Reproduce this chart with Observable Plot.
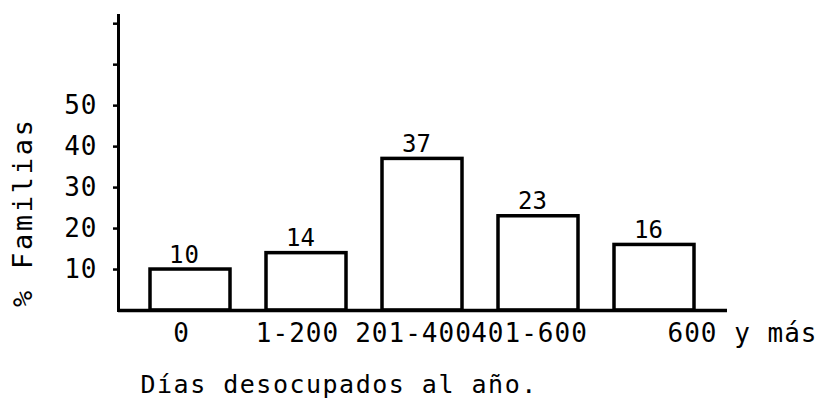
<!DOCTYPE html>
<html>
<head>
<meta charset="utf-8">
<script src="https://cdn.jsdelivr.net/npm/d3@7"></script>
<script src="https://cdn.jsdelivr.net/npm/@observablehq/plot@0.6"></script>
<style>
  body { margin: 0; background: #fff; }
  svg { font-family: "DejaVu Sans Mono", "Liberation Mono", monospace; }
</style>
</head>
<body>
<div id="chart"></div>
<script>
const categories = ["0", "1-200", "201-400", "401-600", "600 y más"];
const values = [10, 14, 37, 23, 16];
const yTicks = [10, 20, 30, 40, 50, 60, 70];
const yTickLabels = ["10", "20", "30", "40", "50", "", ""];
const yLabel = "% Familias";
const xTitle = "Días desocupados al año.";

const data = categories.map((c, i) => ({cat: c, val: values[i]}));
const font = "DejaVu Sans Mono, Liberation Mono, monospace";

const chart = Plot.plot({
  width: 834,
  height: 400,
  marginLeft: 118,
  marginRight: 107,
  marginTop: 15,
  marginBottom: 90,
  style: {fontFamily: font, color: "black", background: "white"},
  x: {domain: categories, paddingInner: 0.31, paddingOuter: 0.28, axis: null},
  y: {domain: [0, 72], axis: null},
  marks: [
    Plot.barY(data, {x: "cat", y: "val", fill: "white", stroke: "black", strokeWidth: 3.5}),
    Plot.text(data, {x: "cat", y: "val", text: d => String(d.val), lineAnchor: "bottom", dy: -7, dx: -6, fontSize: 24, fill: "black"}),
    Plot.ruleY([0], {stroke: "black", strokeWidth: 3.5}),
    Plot.frame({anchor: "left", stroke: "black", strokeWidth: 3}),
    Plot.axisY({ticks: yTicks, tickFormat: d => yTickLabels[yTicks.indexOf(d)], tickSize: 5, tickPadding: 16, strokeWidth: 2.5, fontSize: 26, label: null, stroke: "black", fill: "black"}),
    Plot.axisX(categories.slice(0, 4), {tickSize: 0, tickPadding: 13, dx: -9, fontSize: 26, label: null, fill: "black"}),
    Plot.axisX(categories.slice(4), {tickSize: 0, tickPadding: 13, dx: 88, fontSize: 26, label: null, fill: "black"}),
    Plot.text([yLabel], {frameAnchor: "left", y: [24], text: d => d, dx: -95, rotate: -90, textAnchor: "middle", lineAnchor: "middle", fontSize: 27, fill: "black"}),
    Plot.text([xTitle], {frameAnchor: "bottom-left", text: d => d, dx: 22, dy: 74, textAnchor: "start", lineAnchor: "middle", fontSize: 25, fill: "black"})
  ]
});
document.getElementById("chart").appendChild(chart);

// typewriter-like letter spacing
const spacing = new Map([[yLabel, 2.7], [xTitle, 1.5]]);
categories.forEach(c => spacing.set(c, 1));
yTickLabels.forEach(t => { if (t) spacing.set(t, 1); });
d3.select(chart).selectAll("text").each(function () {
  const t = this.textContent;
  if (spacing.has(t)) this.style.letterSpacing = spacing.get(t) + "px";
});
</script>
</body>
</html>
